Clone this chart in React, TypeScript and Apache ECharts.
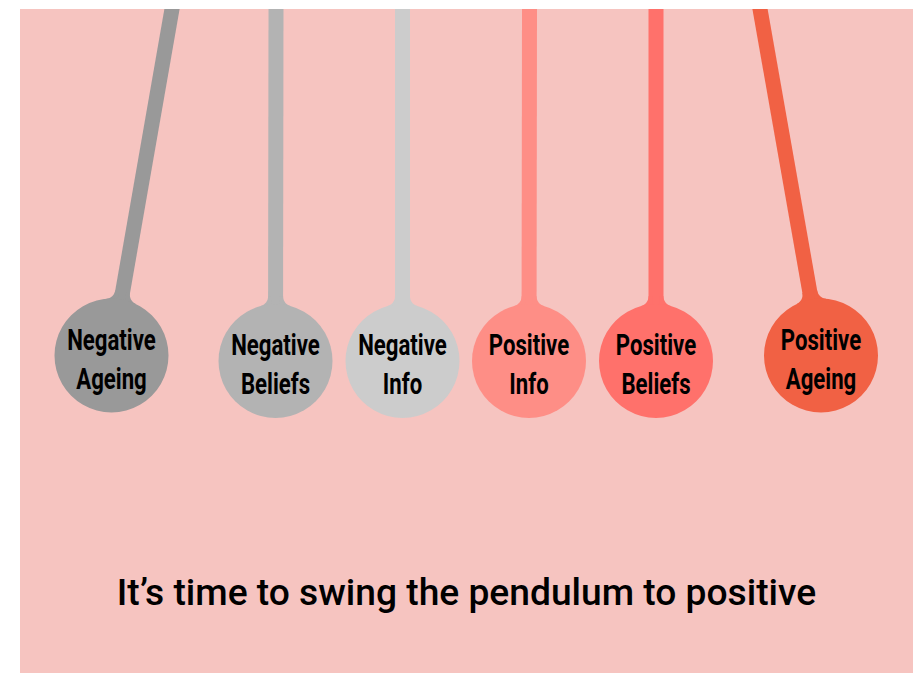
import React, { useEffect, useRef } from "react";
import * as echarts from "echarts";

const labels = [
  "Negative\nAgeing",
  "Negative\nBeliefs",
  "Negative\nInfo",
  "Positive\nInfo",
  "Positive\nBeliefs",
  "Positive\nAgeing",
];
const bobX = [111.5, 275.5, 402.5, 529, 656, 821];
const bobY = [355.5, 361, 361, 361, 361, 355.5];
const stringTopX = [172, 276, 402.5, 529.5, 656, 760];
const colors = ["#999999", "#b3b3b3", "#cccccc", "#fe8e86", "#ff716b", "#f16144"];
const title = "It\u2019s time to swing the pendulum to positive";

const TOP = 9;
const R = 57;
const HALF = 7.5;
const FILLET = 10;

export default function App() {
  const ref = useRef<HTMLDivElement>(null);
  useEffect(() => {
    if (!ref.current) return;
    const chart = echarts.init(ref.current, undefined, { renderer: "svg" });
    const data = labels.map((_, i) => [bobX[i], bobY[i], stringTopX[i], i]);
    const option: any = {
      animation: false,
      backgroundColor: "#ffffff",
      grid: { left: 0, right: 0, top: 0, bottom: 0 },
      xAxis: { type: "value", min: 0, max: 919, show: false },
      yAxis: { type: "value", min: 0, max: 673, inverse: true, show: false },
      graphic: [
        {
          type: "rect",
          z: 0,
          shape: { x: 20, y: TOP, width: 893, height: 673 - TOP },
          style: { fill: "#f6c4c0" },
        },
        {
          type: "text",
          z: 10,
          x: 466.5,
          y: 593,
          scaleX: 1.005,
          style: {
            text: title,
            fill: "#000000",
            fontSize: 37,
            fontWeight: 500,
            fontFamily: "Roboto",
            align: "center",
            verticalAlign: "middle",
          },
        },
      ],
      series: [
        {
          type: "custom",
          z: 5,
          clip: false,
          data,
          renderItem: (params: any, api: any) => {
            const i = api.value(3);
            const c = api.coord([api.value(0), api.value(1)]);
            const p = api.coord([api.value(2), TOP]);
            const dx = c[0] - p[0];
            const dy = c[1] - p[1];
            const len = Math.sqrt(dx * dx + dy * dy);
            const hw = (HALF * len) / dy;
            const up = [-dx / len, -dy / len];
            const nrm = [-up[1], up[0]];
            const toG = (a: number, b: number) => [
              c[0] + a * nrm[0] + b * up[0],
              c[1] + a * nrm[1] + b * up[1],
            ];
            const fillets: any[] = [];
            [1, -1].forEach((s) => {
              const fx = HALF + FILLET;
              const fy = Math.sqrt((R + FILLET) ** 2 - fx * fx);
              const a0 = Math.PI;
              const a1 = Math.atan2(-fy, -fx);
              const pts: number[][] = [];
              const steps = 10;
              for (let k = 0; k <= steps; k++) {
                const a = a0 + ((a1 + 2 * Math.PI - a0) % (2 * Math.PI)) * (k / steps);
                const lx = fx + FILLET * Math.cos(a);
                const ly = fy + FILLET * Math.sin(a);
                pts.push(toG(s * lx, ly));
              }
              pts.push(toG(s * HALF * 0.5, fy * 0.6));
              pts.push(toG(s * HALF * 0.5, fy));
              fillets.push({
                type: "polygon",
                shape: { points: pts },
                style: { fill: colors[i] },
              });
            });
            return {
              type: "group",
              children: [
                {
                  type: "polygon",
                  shape: {
                    points: [
                      [p[0] - hw, p[1]],
                      [p[0] + hw, p[1]],
                      [c[0] + hw, c[1]],
                      [c[0] - hw, c[1]],
                    ],
                  },
                  style: { fill: colors[i] },
                },
                ...fillets,
                {
                  type: "circle",
                  shape: { cx: c[0], cy: c[1], r: R },
                  style: { fill: colors[i] },
                },
                {
                  type: "text",
                  x: c[0],
                  y: c[1] + 3.5,
                  scaleX: 0.74,
                  style: {
                    text: labels[i],
                    fill: "#000000",
                    fontSize: 30,
                    fontWeight: "bold",
                    fontFamily: "Roboto",
                    align: "center",
                    verticalAlign: "middle",
                    lineHeight: 39,
                  },
                },
              ],
            };
          },
        },
      ],
    };
    chart.setOption(option);
    return () => chart.dispose();
  }, []);
  return (
    <div
      ref={ref}
      style={{ position: "absolute", left: 0, top: 0, width: 919, height: 673 }}
    />
  );
}
